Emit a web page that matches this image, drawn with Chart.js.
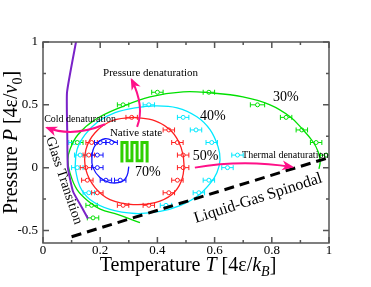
<!DOCTYPE html>
<html>
<head>
<meta charset="utf-8">
<script src="https://cdn.jsdelivr.net/npm/chart.js@4.4.1/dist/chart.umd.min.js"></script>
<style>
  html, body { margin: 0; padding: 0; background: #fff; }
  #wrap { width: 371px; height: 287px; }
</style>
</head>
<body>
<div id="wrap"><canvas id="chart"></canvas></div>
<script>
const xTicks = [0, 0.2, 0.4, 0.6, 0.8, 1];
const yTicks = [-0.5, 0, 0.5, 1];

// fitted curves (temperature T, pressure P)
const curve30T = [0.339, 0.26, 0.20, 0.164, 0.119, 0.094, 0.087, 0.094, 0.122, 0.182, 0.276, 0.374, 0.49, 0.584, 0.699, 0.794, 0.864, 0.909, 0.944, 0.962, 0.969, 0.965];
const curve30P = [-0.437, -0.373, -0.33, -0.278, -0.175, -0.04, 0.063, 0.143, 0.262, 0.381, 0.484, 0.563, 0.603, 0.595, 0.563, 0.5, 0.405, 0.302, 0.206, 0.127, 0.048, -0.01];
const curve40T = [0.112, 0.119, 0.147, 0.192, 0.252, 0.322, 0.392, 0.469, 0.538, 0.584, 0.612, 0.619, 0.608, 0.584, 0.538, 0.479, 0.409, 0.322, 0.234, 0.164, 0.129, 0.112];
const curve40P = [0.0, 0.143, 0.262, 0.365, 0.437, 0.476, 0.492, 0.476, 0.405, 0.302, 0.167, 0.063, -0.04, -0.127, -0.23, -0.302, -0.349, -0.365, -0.333, -0.254, -0.151, 0.0];
const curve50T = [0.315, 0.392, 0.451, 0.483, 0.493, 0.483, 0.451, 0.392, 0.315, 0.234, 0.182, 0.15, 0.15, 0.182, 0.241, 0.315];
const curve50P = [0.40, 0.373, 0.286, 0.159, 0.024, -0.111, -0.214, -0.278, -0.294, -0.254, -0.159, -0.016, 0.143, 0.278, 0.373, 0.40];
const curve70T = [0.259, 0.217, 0.182, 0.171, 0.175, 0.199, 0.234, 0.276, 0.294, 0.30];
const curve70P = [0.198, 0.23, 0.175, 0.087, 0.0, -0.079, -0.119, -0.111, -0.063, 0.008];
const glassT = [0.117, 0.084, 0.085, 0.087, 0.105, 0.136, 0.157];
const glassP = [1.02, 0.60, 0.25, 0.0, -0.19, -0.317, -0.405];
const spinodalT = [0.1, 1.0];
const spinodalP = [-0.55, 0.08];

// simulation points with horizontal error bars
const pts30T = [0.40, 0.58, 0.28, 0.75, 0.85, 0.905, 0.955, 0.99, 0.12, 0.17, 0.175];
const pts30P = [0.6, 0.6, 0.5, 0.5, 0.4, 0.3, 0.2, 0.1, 0.2, -0.3, -0.4];
const pts30E = [0.02, 0.02, 0.02, 0.025, 0.02, 0.02, 0.02, 0.02, 0.02, 0.02, 0.02];
const pts40T = [0.37, 0.49, 0.535, 0.59, 0.68, 0.645, 0.58, 0.545, 0.43, 0.16, 0.13, 0.12, 0.11];
const pts40P = [0.5, 0.4, 0.3, 0.2, 0.1, 0.0, -0.1, -0.2, -0.3, -0.2, 0.1, 0.0, 0.2];
const pts40E = [0.02, 0.02, 0.02, 0.02, 0.02, 0.02, 0.02, 0.02, 0.02, 0.02, 0.02, 0.02, 0.02];
const pts50T = [0.31, 0.44, 0.47, 0.49, 0.49, 0.47, 0.44, 0.37, 0.28, 0.19, 0.155, 0.15, 0.16, 0.17];
const pts50P = [0.4, 0.3, 0.2, 0.1, 0.0, -0.1, -0.2, -0.3, -0.3, -0.2, -0.1, 0.0, 0.1, 0.2];
const pts50E = [0.02, 0.02, 0.02, 0.02, 0.02, 0.02, 0.02, 0.02, 0.02, 0.02, 0.02, 0.02, 0.02, 0.02];
const pts70T = [0.24, 0.20, 0.19, 0.19, 0.22, 0.27];
const pts70P = [0.2, 0.2, 0.1, 0.0, -0.1, -0.1];
const pts70E = [0.02, 0.02, 0.02, 0.02, 0.02, 0.02];

const GREEN = "#00e000", CYAN = "#00e8ff", RED = "#ff2020", BLUE = "#1414ff";
const PURPLE = "#7a22c8", PINK = "#ff1088";
const SERIF = "'Liberation Serif', 'Times New Roman', serif";

const xy = (T, P) => T.map((t, i) => ({ x: t, y: P[i] }));

function curve(T, P, color, width, dash, tension) {
  return { data: xy(T, P), showLine: true, borderColor: color, borderWidth: width,
    borderDash: dash || [], pointRadius: 0, tension: tension ?? 0.4, fill: false };
}
function points(T, P, E, color) {
  return { data: xy(T, P), errX: E, showLine: false, borderColor: color,
    backgroundColor: "#fff", pointRadius: 2, pointBorderWidth: 1 };
}

// annotations (in data units)
const arrows = [
  [[0.329, 0.325], [0.338, 0.50], [0.31, 0.70]],
  [[0.217, 0.345], [0.11, 0.285], [0.014, 0.317]],
  [[0.531, 0.0], [0.70, 0.035], [0.871, 0.005]]
];
const meander = [[0.276, 0.04], [0.276, 0.2], [0.294, 0.2], [0.294, 0.055], [0.311, 0.055], [0.311, 0.2],
  [0.329, 0.2], [0.329, 0.055], [0.346, 0.055], [0.346, 0.2], [0.364, 0.2], [0.364, 0.04]];
const labels = [
  { text: "Pressure denaturation", T: 0.21, P: 0.754, size: 11 },
  { text: "Cold denaturation", T: 0.004, P: 0.381, size: 10 },
  { text: "Native state", T: 0.234, P: 0.278, size: 11 },
  { text: "Thermal denaturation", T: 0.696, P: 0.095, size: 10 },
  { text: "30%", T: 0.804, P: 0.556, size: 14 },
  { text: "40%", T: 0.549, P: 0.405, size: 14 },
  { text: "50%", T: 0.524, P: 0.087, size: 14 },
  { text: "70%", T: 0.322, P: -0.04, size: 14 },
  { text: "Liquid-Gas Spinodal", T: 0.752, P: -0.246, size: 16, rot: -17.9, center: true },
  { text: "Glass Transition", T: 0.073, P: -0.103, size: 14, rot: 71.6, center: true }
];

const errorBars = {
  id: "errorBars",
  beforeDatasetsDraw(chart) {
    const { ctx, scales: { x, y } } = chart;
    ctx.save();
    ctx.beginPath();
    ctx.rect(chart.chartArea.left, chart.chartArea.top, chart.chartArea.width, chart.chartArea.height);
    ctx.clip();
    chart.data.datasets.forEach(ds => {
      if (!ds.errX) return;
      ctx.strokeStyle = ds.borderColor;
      ctx.lineWidth = 1;
      ds.data.forEach((p, i) => {
        const x0 = x.getPixelForValue(p.x - ds.errX[i]);
        const x1 = x.getPixelForValue(p.x + ds.errX[i]);
        const py = y.getPixelForValue(p.y);
        ctx.beginPath();
        ctx.moveTo(x0, py); ctx.lineTo(x1, py);
        ctx.moveTo(x0, py - 2.5); ctx.lineTo(x0, py + 2.5);
        ctx.moveTo(x1, py - 2.5); ctx.lineTo(x1, py + 2.5);
        ctx.stroke();
      });
    });
    ctx.restore();
  }
};

const decorations = {
  id: "decorations",
  afterDatasetsDraw(chart) {
    const { ctx, scales: { x, y } } = chart;
    const px = p => [x.getPixelForValue(p[0]), y.getPixelForValue(p[1])];
    ctx.save();

    // native state meander
    ctx.strokeStyle = "#2fd000";
    ctx.lineWidth = 3;
    ctx.lineJoin = "miter";
    ctx.beginPath();
    meander.forEach((p, i) => { const [a, b] = px(p); i ? ctx.lineTo(a, b) : ctx.moveTo(a, b); });
    ctx.stroke();

    // arrows
    ctx.strokeStyle = PINK;
    ctx.fillStyle = PINK;
    ctx.lineWidth = 2;
    arrows.forEach(a => {
      const [s, m, e] = a.map(px);
      const c = [2 * m[0] - (s[0] + e[0]) / 2, 2 * m[1] - (s[1] + e[1]) / 2];
      ctx.beginPath();
      ctx.moveTo(s[0], s[1]);
      ctx.quadraticCurveTo(c[0], c[1], e[0], e[1]);
      ctx.stroke();
      const ang = Math.atan2(e[1] - c[1], e[0] - c[0]);
      ctx.save();
      ctx.translate(e[0], e[1]);
      ctx.rotate(ang);
      ctx.beginPath();
      ctx.moveTo(2, 0); ctx.lineTo(-10, -5); ctx.lineTo(-6.5, 0); ctx.lineTo(-10, 5);
      ctx.closePath();
      ctx.fill();
      ctx.restore();
    });

    // text labels
    ctx.fillStyle = "#000";
    labels.forEach(l => {
      const [a, b] = px([l.T, l.P]);
      ctx.save();
      ctx.font = l.size + "px " + SERIF;
      ctx.textBaseline = "middle";
      ctx.textAlign = l.center ? "center" : "left";
      ctx.translate(a, b);
      if (l.rot) ctx.rotate(l.rot * Math.PI / 180);
      ctx.fillText(l.text, 0, 0);
      ctx.restore();
    });
    ctx.restore();
  },
  afterDraw(chart) {
    const { ctx, chartArea: ca, scales: { x, y } } = chart;
    ctx.save();
    // frame + inward ticks
    ctx.strokeStyle = "#555";
    ctx.lineWidth = 1.5;
    ctx.strokeRect(ca.left, ca.top, ca.width, ca.height);
    ctx.beginPath();
    for (let v = 0; v <= 1.0001; v += 0.1) {
      const len = Math.abs(v * 5 - Math.round(v * 5)) < 1e-6 ? 6 : 3;
      const p = x.getPixelForValue(v);
      ctx.moveTo(p, ca.bottom); ctx.lineTo(p, ca.bottom - len);
      ctx.moveTo(p, ca.top); ctx.lineTo(p, ca.top + len);
    }
    for (let v = -0.5; v <= 1.0001; v += 0.25) {
      const len = Math.abs(v * 2 - Math.round(v * 2)) < 1e-6 ? 6 : 3;
      const p = y.getPixelForValue(v);
      ctx.moveTo(ca.left, p); ctx.lineTo(ca.left + len, p);
      ctx.moveTo(ca.right, p); ctx.lineTo(ca.right - len, p);
    }
    ctx.stroke();

    // tick labels
    ctx.fillStyle = "#000";
    ctx.font = "13px " + SERIF;
    ctx.textBaseline = "middle";
    ctx.textAlign = "center";
    xTicks.forEach(v => ctx.fillText(String(v), x.getPixelForValue(v), ca.bottom + 8));
    ctx.textAlign = "right";
    yTicks.forEach(v => ctx.fillText(String(v), ca.left - 5, y.getPixelForValue(v)));

    // axis titles with italic symbols and subscripts
    const parts = (segs, size) => segs.map(s => ({ ...s,
      font: (s.it ? "italic " : "") + (s.sub ? size * 0.7 : size) + "px " + SERIF }));
    const drawRich = (segs, cx, cy, rot) => {
      ctx.save();
      ctx.translate(cx, cy);
      ctx.rotate(rot);
      let w = 0;
      segs.forEach(s => { ctx.font = s.font; s.w = ctx.measureText(s.t).width; w += s.w; });
      let cur = -w / 2;
      ctx.textBaseline = "alphabetic";
      ctx.textAlign = "left";
      segs.forEach(s => { ctx.font = s.font; ctx.fillText(s.t, cur, s.sub ? 5 : 0); cur += s.w; });
      ctx.restore();
    };
    drawRich(parts([{ t: "Temperature " }, { t: "T", it: true }, { t: " [4ε/" }, { t: "k", it: true },
      { t: "B", it: true, sub: true }, { t: "]" }], 20), 188, 271, 0);
    drawRich(parts([{ t: "Pressure " }, { t: "P", it: true }, { t: " [4ε/" }, { t: "v", it: true },
      { t: "0", sub: true }, { t: "]" }], 20), 17, (ca.top + ca.bottom) / 2, -Math.PI / 2);
    ctx.restore();
  }
};

new Chart(document.getElementById("chart"), {
  type: "scatter",
  data: {
    datasets: [
      curve(spinodalT, spinodalP, "#000", 3, [10, 6]),
      curve(glassT, glassP, PURPLE, 2, null, 0.15),
      curve(curve30T, curve30P, GREEN, 1.3),
      curve(curve40T, curve40P, CYAN, 1.3),
      curve(curve50T, curve50P, RED, 1.3),
      curve(curve70T, curve70P, BLUE, 1.3),
      points(pts30T, pts30P, pts30E, GREEN),
      points(pts40T, pts40P, pts40E, CYAN),
      points(pts50T, pts50P, pts50E, RED),
      points(pts70T, pts70P, pts70E, BLUE)
    ]
  },
  options: {
    responsive: true,
    maintainAspectRatio: false,
    animation: false,
    devicePixelRatio: 1,
    layout: { padding: { top: 42, right: 42, left: 0, bottom: 0 } },
    plugins: { legend: { display: false }, tooltip: { enabled: false } },
    scales: {
      x: {
        type: "linear", min: 0, max: 1,
        afterBuildTicks: s => { s.ticks = xTicks.map(v => ({ value: v })); },
        afterFit: s => { s.height = 44; },
        grid: { display: false }, border: { display: false },
        ticks: { display: false }
      },
      y: {
        type: "linear", min: -0.6, max: 1,
        afterBuildTicks: s => { s.ticks = yTicks.map(v => ({ value: v })); },
        afterFit: s => { s.width = 43; },
        grid: { display: false }, border: { display: false },
        ticks: { display: false }
      }
    }
  },
  plugins: [errorBars, decorations]
});
</script>
</body>
</html>
